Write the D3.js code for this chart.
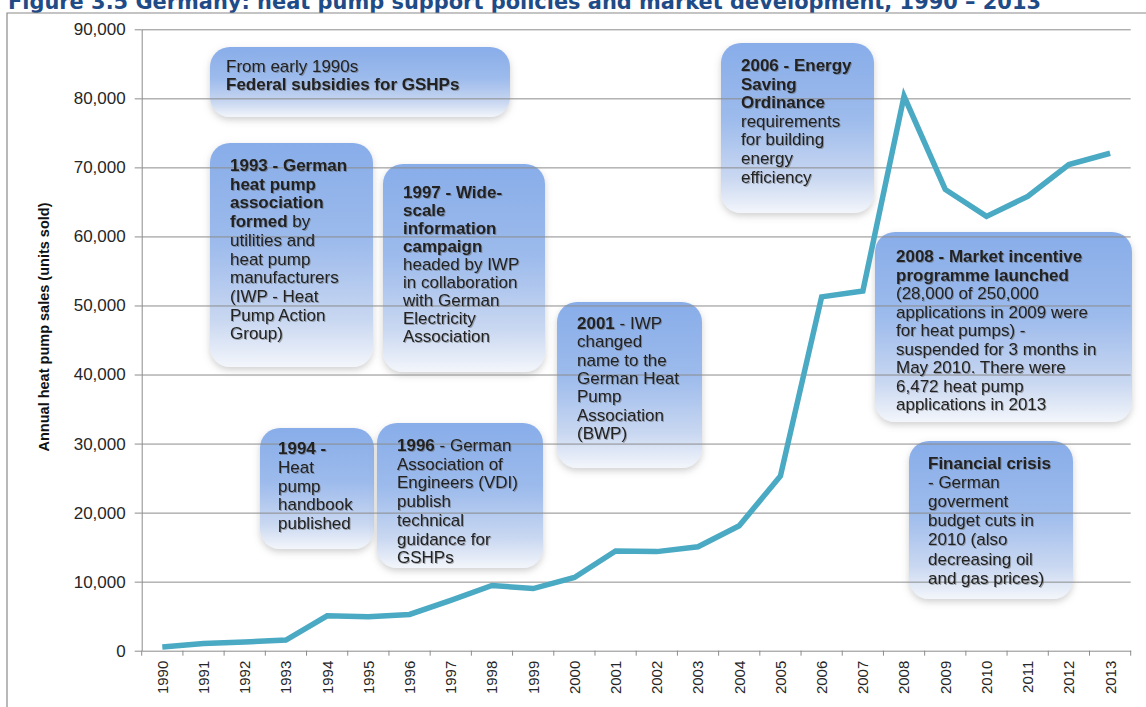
<!DOCTYPE html>
<html>
<head>
<meta charset="utf-8">
<script src="https://cdn.jsdelivr.net/npm/d3@7"></script>
<style>
  html, body { margin: 0; padding: 0; background: #ffffff; }
  svg { display: block; }
</style>
</head>
<body>
<svg id="chart" width="1146" height="707"></svg>
<script>
// ---- data ----------------------------------------------------------------
const years = ["1990","1991","1992","1993","1994","1995","1996","1997","1998","1999",
               "2000","2001","2002","2003","2004","2005","2006","2007","2008","2009",
               "2010","2011","2012","2013"];
const sales = [550, 1050, 1250, 1550, 5050, 4900, 5250, 7300, 9450, 9000,
               10600, 14450, 14350, 15050, 18100, 25300, 51250, 52100, 80300, 66800,
               62900, 65800, 70400, 72050];
const yTickValues = [0, 10000, 20000, 30000, 40000, 50000, 60000, 70000, 80000, 90000];

const titleText = "Figure 3.5  Germany: heat pump support policies and market development, 1990 \u2013 2013";
const yAxisTitle = "Annual heat pump sales (units sold)";

// Policy milestones: each line is a list of [text, isBold] runs
const milestoneNotes = [
  [[["From early 1990s", false]], [["Federal subsidies for GSHPs", true]]],
  [[["1993 - German", true]], [["heat pump", true]], [["association", true]],
   [["formed", true], [" by", false]], [["utilities and", false]], [["heat pump", false]],
   [["manufacturers", false]], [["(IWP - Heat", false]], [["Pump Action", false]], [["Group)", false]]],
  [[["1997 - Wide-", true]], [["scale", true]], [["information", true]], [["campaign", true]],
   [["headed by IWP", false]], [["in collaboration", false]], [["with German", false]],
   [["Electricity", false]], [["Association", false]]],
  [[["2006 - Energy", true]], [["Saving", true]], [["Ordinance", true]], [["requirements", false]],
   [["for building", false]], [["energy", false]], [["efficiency", false]]],
  [[["2001", true], [" - IWP", false]], [["changed", false]], [["name to the", false]],
   [["German Heat", false]], [["Pump", false]], [["Association", false]], [["(BWP)", false]]],
  [[["2008 - Market incentive", true]], [["programme launched", true]],
   [["(28,000 of 250,000", false]], [["applications in 2009 were", false]],
   [["for heat pumps) -", false]], [["suspended for 3 months in", false]],
   [["May 2010. There were", false]], [["6,472 heat pump", false]], [["applications in 2013", false]]],
  [[["Financial crisis", true]], [["- German", false]], [["goverment", false]], [["budget cuts in", false]],
   [["2010 (also", false]], [["decreasing oil", false]], [["and gas prices)", false]]],
  [[["1994 -", true]], [["Heat", false]], [["pump", false]], [["handbook", false]], [["published", false]]],
  [[["1996", true], [" - German", false]], [["Association of", false]], [["Engineers (VDI)", false]],
   [["publish", false]], [["technical", false]], [["guidance for", false]], [["GSHPs", false]]]
];

// ---- layout ----------------------------------------------------------------
// box geometry and text placement for each milestone (same order as above)
const noteLayout = [
  {x: 210, y: 47,  w: 300, h: 70,  tx: 226, ty: 72,  lh: 18.0},
  {x: 210, y: 143, w: 163, h: 224, tx: 230, ty: 171, lh: 18.7},
  {x: 383, y: 164, w: 162, h: 208, tx: 403, ty: 198, lh: 18.0},
  {x: 721, y: 43,  w: 153, h: 170, tx: 741, ty: 71,  lh: 18.6},
  {x: 557, y: 302, w: 145, h: 166, tx: 577, ty: 329, lh: 18.3},
  {x: 875, y: 232, w: 257, h: 190, tx: 896, ty: 262, lh: 18.5},
  {x: 909, y: 441, w: 164, h: 158, tx: 928, ty: 469, lh: 19.1},
  {x: 260, y: 428, w: 114, h: 121, tx: 278, ty: 454, lh: 18.75},
  {x: 377, y: 423, w: 166, h: 145, tx: 397, ty: 451, lh: 18.7}
];

const W = 1146, H = 707;
const plot = {left: 141.7, right: 1130.7, top: 29.3, bottom: 650.7};
const lineColor = "#4aa9c3";
const gridColor = "#8c8c8c";
const textColor = "#222222";

const svg = d3.select("#chart");

// ---- defs: box gradient and soft shadows ----
const defs = svg.append("defs");
const grad = defs.append("linearGradient")
  .attr("id", "noteFill").attr("x1", 0).attr("y1", 0).attr("x2", 0).attr("y2", 1);
[[0, "#88ade9", 1], [0.45, "#9dbbec", 1], [0.8, "#cad8f1", 1], [1, "#f3f6fb", 1]]
  .forEach(([o, c, a]) => grad.append("stop").attr("offset", o).attr("stop-color", c).attr("stop-opacity", a));

const boxShadow = defs.append("filter").attr("id", "boxShadow")
  .attr("x", "-10%").attr("y", "-10%").attr("width", "120%").attr("height", "125%");
boxShadow.append("feDropShadow").attr("dx", 0).attr("dy", 3).attr("stdDeviation", 3.5)
  .attr("flood-color", "#7a7a7a").attr("flood-opacity", 0.35);

const textShadow = defs.append("filter").attr("id", "textShadow")
  .attr("x", "-5%").attr("y", "-20%").attr("width", "110%").attr("height", "140%");
textShadow.append("feDropShadow").attr("dx", 1).attr("dy", 1).attr("stdDeviation", 0.7)
  .attr("flood-color", "#555").attr("flood-opacity", 0.45);

// ---- title and frame ----
svg.append("text")
  .attr("x", 8).attr("y", 9)
  .attr("font-family", "'DejaVu Sans', Verdana, sans-serif")
  .attr("font-weight", "bold")
  .attr("font-size", 21)
  .attr("fill", "#1f4b87")
  .attr("textLength", 1033)
  .attr("lengthAdjust", "spacingAndGlyphs")
  .text(titleText);

svg.append("path")
  .attr("d", `M7,${H} L7,13 L${W},13`)
  .attr("fill", "none").attr("stroke", "#8a8a8a").attr("stroke-width", 1.2);

// ---- scales ----
const x = d3.scaleBand().domain(years).range([plot.left, plot.right]).padding(0);
const y = d3.scaleLinear().domain([0, 90000]).range([plot.bottom, plot.top]);

// ---- milestone boxes (behind the grid) ----
const noteG = svg.append("g").attr("class", "notes");
noteLayout.forEach((L) => {
  noteG.append("rect")
    .attr("x", L.x).attr("y", L.y).attr("width", L.w).attr("height", L.h)
    .attr("rx", 20).attr("ry", 20)
    .attr("fill", "url(#noteFill)")
    .attr("filter", "url(#boxShadow)");
});

// ---- gridlines ----
svg.append("g")
  .attr("transform", `translate(${plot.left},0)`)
  .call(d3.axisLeft(y).tickValues(yTickValues.filter(v => v > 0))
        .tickSize(-(plot.right - plot.left)).tickFormat(""))
  .call(g => g.select(".domain").remove())
  .call(g => g.selectAll("line").attr("stroke", gridColor).attr("stroke-width", 1));

// ---- y axis ----
svg.append("g")
  .attr("transform", `translate(${plot.left},0)`)
  .call(d3.axisLeft(y).tickValues(yTickValues).tickFormat(d3.format(","))
        .tickSize(7).tickSizeOuter(0).tickPadding(9))
  .call(g => g.select(".domain").attr("stroke", gridColor))
  .call(g => g.selectAll(".tick line").attr("stroke", gridColor))
  .call(g => g.selectAll("text")
        .attr("font-family", "'Liberation Sans', Arial, sans-serif")
        .attr("font-size", 17).attr("fill", "#262626"));

svg.append("text")
  .attr("transform", `translate(44,327) rotate(-90)`)
  .attr("text-anchor", "middle")
  .attr("dy", "0.35em")
  .attr("font-family", "'Liberation Sans Narrow', 'Liberation Sans', Arial, sans-serif")
  .attr("font-weight", "bold")
  .attr("font-size", 14.5)
  .attr("fill", "#111")
  .text(yAxisTitle);

// ---- x axis: labels at band centres, tick marks at band edges ----
const xAxisG = svg.append("g").attr("transform", `translate(0,${plot.bottom})`);
xAxisG.call(d3.axisBottom(x).tickSize(0).tickSizeOuter(0))
  .call(g => g.select(".domain").attr("stroke", gridColor))
  .call(g => g.selectAll("text")
        .attr("font-family", "'Liberation Sans', Arial, sans-serif")
        .attr("font-size", 15).attr("fill", "#262626")
        .attr("text-anchor", "end")
        .attr("transform", "rotate(-90)")
        .attr("x", -10).attr("y", 0).attr("dy", "0.36em"));
const edges = years.map(d => x(d)).concat([x(years[years.length - 1]) + x.bandwidth()]);
xAxisG.selectAll("line.edge").data(edges).join("line")
  .attr("class", "edge")
  .attr("x1", d => d).attr("x2", d => d).attr("y1", 0).attr("y2", 5)
  .attr("stroke", gridColor);

// ---- sales line ----
svg.append("path")
  .datum(sales)
  .attr("fill", "none")
  .attr("stroke", lineColor)
  .attr("stroke-width", 5.5)
  .attr("stroke-linejoin", "miter")
  .attr("d", d3.line()
    .x((d, i) => x(years[i]) + x.bandwidth() / 2)
    .y(d => y(d)));

// ---- milestone text ----
const noteText = svg.append("g").attr("class", "note-text")
  .attr("font-family", "'Liberation Sans', Arial, sans-serif")
  .attr("font-size", 17)
  .attr("fill", textColor)
  .attr("filter", "url(#textShadow)");
milestoneNotes.forEach((lines, k) => {
  const L = noteLayout[k];
  lines.forEach((runs, j) => {
    const t = noteText.append("text").attr("x", L.tx).attr("y", L.ty + j * L.lh);
    runs.forEach(([s, b]) => {
      t.append("tspan").attr("font-weight", b ? "bold" : "normal").text(s);
    });
  });
});
</script>
</body>
</html>
